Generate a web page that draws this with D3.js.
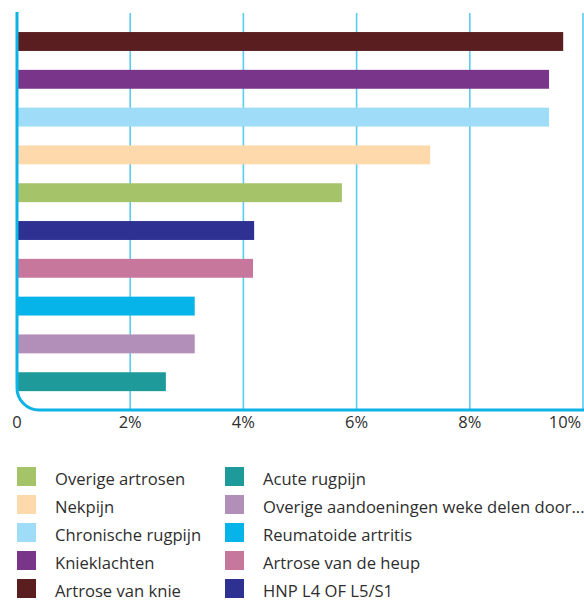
<!DOCTYPE html>
<html><head><meta charset="utf-8">
<script src="https://cdn.jsdelivr.net/npm/d3@7"></script>
<style>body{margin:0;background:#fff}svg{display:block}</style>
</head><body>
<script>
const categories = ["Artrose van knie","Knieklachten","Chronische rugpijn","Nekpijn","Overige artrosen","HNP L4 OF L5/S1","Artrose van de heup","Reumatoide artritis","Overige aandoeningen weke delen door...","Acute rugpijn"];
const values = [9.65, 9.40, 9.40, 7.30, 5.74, 4.19, 4.17, 3.14, 3.14, 2.63];
const colors = ["#5a1e20","#78358a","#9edcf7","#fdd9ab","#a5c46a","#2e3192","#c7779c","#06b4e9","#b28fb8","#1e9a9a"];
const ticks = [0, 2, 4, 6, 8, 10];
const tickLabels = ["0","2%","4%","6%","8%","10%"];
const legendCol1 = ["Overige artrosen","Nekpijn","Chronische rugpijn","Knieklachten","Artrose van knie"];
const legendCol2 = ["Acute rugpijn","Overige aandoeningen weke delen door...","Reumatoide artritis","Artrose van de heup","HNP L4 OF L5/S1"];

const W = 584, H = 604;
const svg = d3.select("body").append("svg").attr("width", W).attr("height", H);
const x = d3.scaleLinear().domain([0, 10]).range([17, 583]);
const y = d3.scaleBand().domain(categories).range([22.6, 400.6]).paddingInner(0.5).paddingOuter(0.25);
const color = d3.scaleOrdinal().domain(categories).range(colors);
const font = "'Open Sans', sans-serif";

// gridlines
svg.append("g").selectAll("line").data(ticks.filter(t => t > 0)).join("line")
  .attr("x1", d => x(d)).attr("x2", d => x(d))
  .attr("y1", 13).attr("y2", 410)
  .attr("stroke", "#5ccbf0").attr("stroke-width", 1.6);

// bars
svg.append("g").selectAll("rect").data(categories).join("rect")
  .attr("x", x(0)).attr("y", d => y(d))
  .attr("width", (d, i) => x(values[i]) - x(0))
  .attr("height", y.bandwidth())
  .attr("fill", d => color(d));

// axis frame with rounded corner
const r = 22, x0 = x(0), yb = 410;
svg.append("path")
  .attr("d", `M${x0},12 V${yb - r} A${r},${r} 0 0 0 ${x0 + r},${yb} H${W}`)
  .attr("fill", "none").attr("stroke", "#0db3e6").attr("stroke-width", 3);

// tick labels
svg.append("g").selectAll("text").data(ticks).join("text")
  .attr("x", (d, i) => i === ticks.length - 1 ? x(d) - 18 : x(d))
  .attr("y", 428)
  .attr("text-anchor", "middle")
  .attr("font-family", font).attr("font-size", 16.5).attr("fill", "#2e2e2e")
  .text((d, i) => tickLabels[i]);

// legend
function legend(items, sx, tx) {
  const g = svg.append("g");
  items.forEach((name, i) => {
    const yy = 467 + i * 28;
    g.append("rect").attr("x", sx).attr("y", yy).attr("width", 19).attr("height", 19).attr("fill", color(name));
    g.append("text").attr("x", tx).attr("y", yy + 18).attr("font-family", font)
      .attr("font-size", 16.6).attr("fill", "#2e2e2e").text(name);
  });
}
legend(legendCol1, 17, 55);
legend(legendCol2, 225, 263);
</script>
</body></html>
